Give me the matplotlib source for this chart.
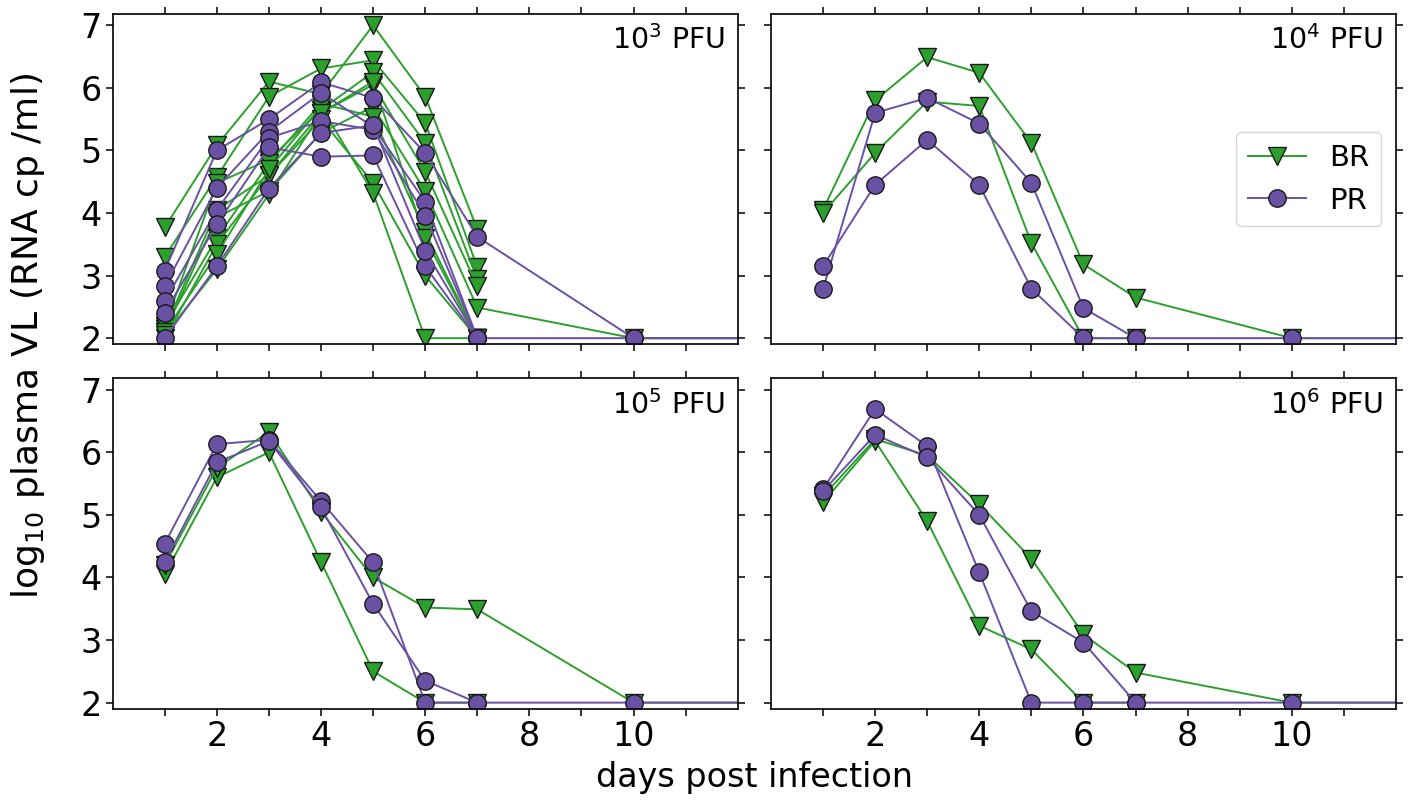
import numpy as np
import matplotlib
matplotlib.use('Agg')
import matplotlib.pyplot as plt
from matplotlib.lines import Line2D

nan = np.nan

# sampling days (14 is off the axis, only keeps the baseline running to the edge)
days = [1, 2, 3, 4, 5, 6, 7, 10, 14]

# log10 plasma VL per animal, 10^3 PFU
br_1e3 = [
    [3.77, 5.08, 6.10, 5.90, 7.00, 5.86, 3.74, nan, nan],
    [3.30, 4.58, 5.86, 6.31, 6.44, 5.44, 3.13, nan, nan],
    [2.20, 4.48, 4.85, 5.65, 6.25, 5.12, 2.94, nan, nan],
    [2.15, 4.05, 4.60, 5.60, 6.05, 4.66, 2.83, nan, nan],
    [2.10, 3.93, 4.35, 5.28, 5.70, 4.35, 2.49, 2.00, 2.00],
    [2.20, 3.60, 4.80, 5.75, 5.54, 3.70, 2.00, nan, nan],
    [2.00, 3.50, 4.60, 5.50, 4.48, 3.00, 2.00, nan, nan],
    [2.10, 3.34, 4.70, 5.70, 4.32, 2.00, 2.00, nan, nan],
    [2.05, 3.10, 4.30, 5.60, 6.10, 3.60, 2.00, nan, nan],
]
pr_1e3 = [
    [3.08, 5.00, 5.50, 6.09, 5.84, 4.96, 3.62, 2.00, 2.00],
    [2.83, 4.40, 5.30, 5.92, 5.38, 4.18, 2.00, nan, nan],
    [2.59, 4.05, 5.20, 5.47, 5.33, 3.96, 2.00, nan, nan],
    [2.41, 3.82, 5.05, 4.90, 4.92, 3.15, 2.00, nan, nan],
    [2.00, 3.15, 4.39, 5.28, 5.40, 3.40, 2.00, 2.00, 2.00],
]

# 10^4 PFU
br_1e4 = [
    [4.05, 5.80, 6.49, 6.24, 5.12, 3.18, 2.65, 2.00, 2.00],
    [4.00, 4.96, 5.78, 5.71, 3.52, 2.00, 2.00, nan, nan],
]
pr_1e4 = [
    [2.78, 5.60, 5.84, 5.43, 4.48, 2.48, 2.00, 2.00, 2.00],
    [3.15, 4.45, 5.17, 4.45, 2.79, 2.00, 2.00, nan, nan],
]

# 10^5 PFU
br_1e5 = [
    [4.05, 5.60, 6.00, 4.25, 2.50, 2.00, 2.00, nan, nan],
    [4.20, 5.75, 6.33, 5.05, 4.00, 3.52, 3.49, 2.00, 2.00],
]
pr_1e5 = [
    [4.54, 6.13, 6.20, 5.22, 4.24, 2.00, 2.00, 2.00, 2.00],
    [4.25, 5.84, 6.18, 5.12, 3.58, 2.35, 2.00, nan, nan],
]

# 10^6 PFU
br_1e6 = [
    [5.30, 6.21, 5.95, 5.17, 4.30, 3.09, 2.48, 2.00, 2.00],
    [5.20, 6.18, 4.90, 3.23, 2.85, 2.00, 2.00, nan, nan],
]
pr_1e6 = [
    [5.41, 6.69, 6.10, 4.08, 2.00, 2.00, 2.00, 2.00, 2.00],
    [5.38, 6.28, 5.92, 5.00, 3.46, 2.96, 2.00, nan, nan],
]

doses = ['10$^3$ PFU', '10$^4$ PFU', '10$^5$ PFU', '10$^6$ PFU']
br_all = [br_1e3, br_1e4, br_1e5, br_1e6]
pr_all = [pr_1e3, pr_1e4, pr_1e5, pr_1e6]

green = '#2ca02c'
purple = '#6a51a3'

fig, axes = plt.subplots(2, 2, figsize=(14.08, 8.01), dpi=100, sharex=True, sharey=True)
fig.subplots_adjust(left=0.080, right=0.9915, top=0.9825, bottom=0.115,
                    wspace=0.053, hspace=0.103)

x = np.array(days)
for ax, dose, br, pr in zip(axes.flat, doses, br_all, pr_all):
    for row in br:
        y = np.array(row)
        m = ~np.isnan(y)
        ax.plot(x[m], y[m], color=green, lw=1.4, marker='v', ms=13,
                mfc=green, mec='#1a1a1a', mew=1.0)
    for row in pr:
        y = np.array(row)
        m = ~np.isnan(y)
        ax.plot(x[m], y[m], color=purple, lw=1.4, marker='o', ms=12.5,
                mfc=purple, mec='#1a1a1a', mew=1.0)
    ax.text(0.98, 0.965, dose, ha='right', va='top', transform=ax.transAxes,
            fontsize=20.5)
    ax.set_xlim(0, 12)
    ax.set_ylim(1.9, 7.18)
    ax.set_xticks(range(1, 12))
    ax.set_xticklabels([str(d) if d % 2 == 0 else '' for d in range(1, 12)])
    ax.set_yticks(range(2, 8))
    ax.tick_params(top=True, right=True, direction='out', length=5, width=1.1,
                   labelsize=24, pad=3)
    for s in ax.spines.values():
        s.set_linewidth(1.2)

# legend in the 10^4 panel
handles = [
    Line2D([], [], color=green, lw=1.4, marker='v', ms=13, mfc=green, mec='#1a1a1a'),
    Line2D([], [], color=purple, lw=1.4, marker='o', ms=12.5, mfc=purple, mec='#1a1a1a'),
]
axes[0, 1].legend(handles, ['BR', 'PR'], loc='center right', fontsize=21,
                  borderaxespad=0.5)

fig.text(0.020, 0.58, 'log$_{10}$ plasma VL (RNA cp /ml)', rotation=90,
         ha='center', va='center', fontsize=26)
fig.text(0.536, 0.029, 'days post infection', ha='center', va='center', fontsize=24)

fig.savefig('out.png', dpi=100)
